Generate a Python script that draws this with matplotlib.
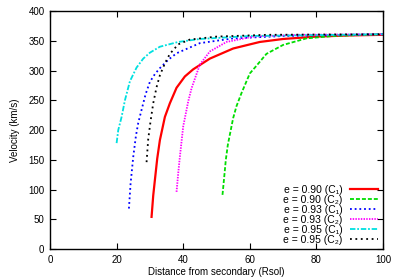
import matplotlib.pyplot as plt

plt.rcParams['font.family'] = ['Liberation Sans', 'DejaVu Sans']

# e = 0.90 (C1)
x_90_c1 = [30.5, 31.0, 31.5, 32.2, 33.0, 34.5, 36.0, 38.0, 40.5, 43.0, 48.0, 55.0, 63.0, 70.0, 80.0, 90.0, 100.0]
v_90_c1 = [54, 90, 116, 152, 183, 222, 245, 271, 290, 302, 320, 337, 348, 353, 357, 359, 360]
# e = 0.90 (C2)
x_90_c2 = [51.8, 52.3, 52.8, 53.4, 54.0, 55.0, 56.0, 57.5, 60.0, 62.0, 65.0, 70.0, 77.0, 85.0, 100.0]
v_90_c2 = [91, 120, 150, 175, 192, 220, 240, 262, 295, 308, 328, 343, 354, 358, 361]
# e = 0.93 (C1)
x_93_c1 = [23.7, 24.2, 25.0, 25.8, 26.5, 27.5, 28.7, 30.0, 31.5, 33.0, 35.5, 38.0, 45.0, 55.0, 70.0, 100.0]
v_93_c1 = [68, 110, 155, 190, 212, 234, 260, 281, 294, 304, 318, 329, 346, 354, 358, 361]
# e = 0.93 (C2)
x_93_c2 = [38.0, 38.5, 39.0, 40.0, 40.5, 41.5, 42.5, 45.0, 48.0, 53.0, 61.0, 75.0, 100.0]
v_93_c2 = [96, 127, 155, 206, 220, 248, 270, 310, 332, 348, 357, 360, 361]
# e = 0.95 (C1)
x_95_c1 = [20.0, 20.5, 21.5, 22.5, 24.0, 26.0, 28.0, 30.0, 33.0, 38.5, 45.0, 60.0, 100.0]
v_95_c1 = [178, 200, 222, 250, 282, 305, 320, 330, 340, 348, 353, 358, 361]
# e = 0.95 (C2)
x_95_c2 = [29.0, 29.5, 30.2, 31.0, 32.0, 33.0, 34.5, 36.0, 38.5, 42.0, 50.0, 65.0, 100.0]
v_95_c2 = [146, 185, 215, 245, 272, 292, 312, 328, 344, 352, 357, 360, 361]

labels = ['e = 0.90 (C\u2081)', 'e = 0.90 (C\u2082)', 'e = 0.93 (C\u2081)',
          'e = 0.93 (C\u2082)', 'e = 0.95 (C\u2081)', 'e = 0.95 (C\u2082)']

fig = plt.figure(figsize=(4, 2.79), dpi=100)
ax = fig.add_axes([0.125, 0.1075, 0.8325, 0.853])

ax.plot(x_90_c1, v_90_c1, color='#ff0000', lw=1.6, ls='-', label=labels[0])
ax.plot(x_90_c2, v_90_c2, color='#00dd00', lw=1.3, ls=(0, (2.2, 1.1)), label=labels[1])
ax.plot(x_93_c1, v_93_c1, color='#0000ff', lw=1.3, ls=(0, (1.0, 1.6)), label=labels[2])
ax.plot(x_93_c2, v_93_c2, color='#ff00ff', lw=1.3, ls=(0, (0.8, 0.7)), label=labels[3])
ax.plot(x_95_c1, v_95_c1, color='#00e0e0', lw=1.3, ls=(0, (3, 1, 1, 1)), label=labels[4])
ax.plot(x_95_c2, v_95_c2, color='#000000', lw=1.3, ls=(0, (1.0, 2.0)), label=labels[5])

ax.set_xlim(0, 100)
ax.set_ylim(0, 400)
ax.set_xticks(range(0, 101, 20))
ax.set_yticks(range(0, 401, 50))
ax.tick_params(direction='in', top=True, right=True, length=4, width=0.8,
               labelsize=7, pad=4)
for s in ax.spines.values():
    s.set_linewidth(1.0)

ax.set_xlabel('Distance from secondary (Rsol)', fontsize=7, labelpad=2)
ax.set_ylabel('Velocity (km/s)', fontsize=7, labelpad=6)

ax.legend(loc='lower right', markerfirst=False, frameon=False, fontsize=7.5,
          handlelength=2.7, handletextpad=0.7, labelspacing=0.0,
          borderaxespad=0.0, borderpad=0.3, bbox_to_anchor=(0.995, 0.005))

fig.savefig('out.png', dpi=100)
